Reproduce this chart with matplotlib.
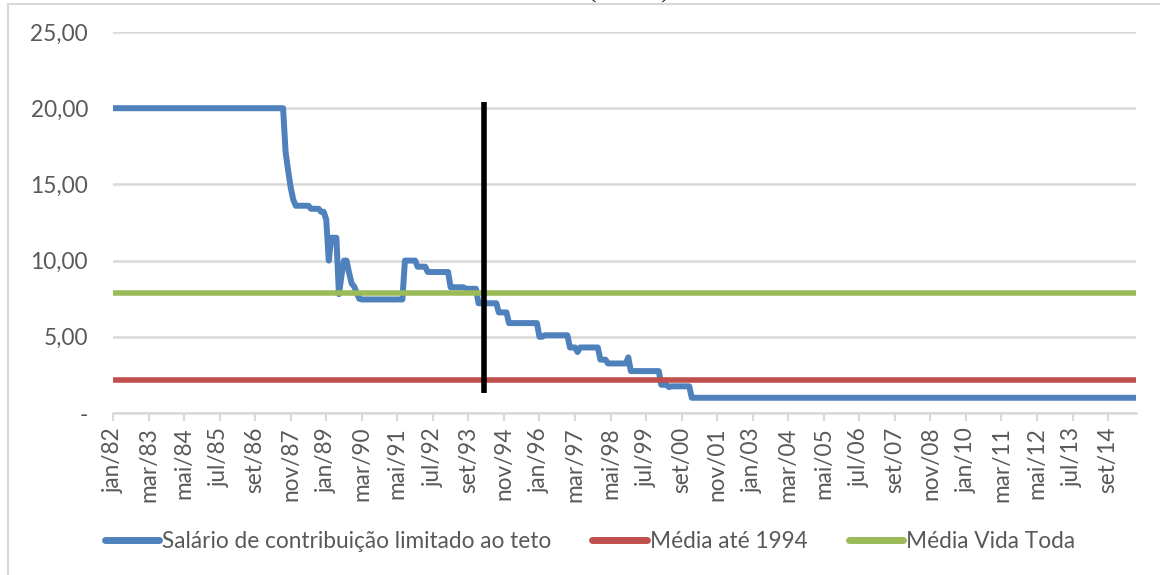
import numpy as np
import matplotlib
matplotlib.use("Agg")
import matplotlib.pyplot as plt
from matplotlib.patches import Rectangle

# Salário de contribuição (run-length: valor, nº de meses) - jan/82 em diante
salario_valores = [20.0, 17.1, 15.9, 14.8, 14.0, 13.6, 13.4, 13.2, 12.7, 10.0,
                   11.5, 7.8, 9.0, 10.0, 9.2, 8.5, 8.3, 7.9, 7.5, 7.45,
                   10.0, 9.6, 9.25, 8.25, 8.15, 7.2, 6.6, 5.9, 5.0, 5.1,
                   4.3, 4.0, 4.3, 3.5, 3.25, 3.65, 2.75, 1.85, 1.7, 1.75, 1.0]
salario_meses = [68, 1, 1, 1, 1, 6, 4, 2, 1, 1,
                 3, 1, 1, 2, 1, 1, 1, 1, 1, 17,
                 5, 4, 9, 6, 5, 8, 4, 12, 2, 10,
                 3, 1, 8, 3, 8, 1, 12, 3, 1, 8, 176]

media_ate_1994 = 2.17
media_vida_toda = 7.9

# marco vertical (1994)
marco_mes = 146
marco_ymin, marco_ymax = 1.3, 20.4

tick_labels = ["jan/82", "mar/83", "mai/84", "jul/85", "set/86", "nov/87",
               "jan/89", "mar/90", "mai/91", "jul/92", "set/93", "nov/94",
               "jan/96", "mar/97", "mai/98", "jul/99", "set/00", "nov/01",
               "jan/03", "mar/04", "mai/05", "jul/06", "set/07", "nov/08",
               "jan/10", "mar/11", "mai/12", "jul/13", "set/14"]
tick_step = 14

salario = np.repeat(salario_valores, salario_meses)
n = len(salario)
x = np.arange(n)

plt.rcParams["font.family"] = ["Lato", "DejaVu Sans"]
cinza = "#595959"
fs = 16.3

fig = plt.figure(figsize=(11.6, 5.75), dpi=100)
ax = fig.add_axes([113 / 1160, 1 - 413 / 575, (1136 - 113) / 1160, (413 - 32) / 575])

ax.plot(x, salario, color="#4F81BD", lw=4.3, solid_capstyle="round",
        label="Salário de contribuição limitado ao teto", zorder=3)
ax.plot(x, np.full(n, media_ate_1994), color="#C0504D", lw=4.0,
        label="Média até 1994", zorder=3)
ax.plot(x, np.full(n, media_vida_toda), color="#9BBB59", lw=4.0,
        label="Média Vida Toda", zorder=3)
ax.vlines(marco_mes, marco_ymin, marco_ymax, color="black", lw=4.0, zorder=5)

ax.set_xlim(0, n - 1)
ax.set_ylim(0, 25)
ax.set_yticks([0, 5, 10, 15, 20, 25])
ax.set_yticklabels(["-" if v == 0 else f"{v:.2f}".replace(".", ",")
                    for v in [0, 5, 10, 15, 20, 25]])
ax.set_xticks(np.arange(len(tick_labels)) * tick_step)
ax.set_xticklabels(tick_labels, rotation=90)

ax.grid(axis="y", color="#d9d9d9", lw=1.8)
ax.set_axisbelow(True)
for s in ["top", "right", "left"]:
    ax.spines[s].set_visible(False)
ax.spines["bottom"].set_color("#d9d9d9")
ax.spines["bottom"].set_linewidth(1.8)
ax.tick_params(axis="y", length=0, pad=18, labelsize=fs, labelcolor=cinza)
ax.tick_params(axis="x", length=6, width=1.5, color="#d9d9d9", pad=4,
               labelsize=fs, labelcolor=cinza)

leg = fig.legend(loc="center", bbox_to_anchor=(0.5086, 1 - 541 / 575), ncol=3,
                 frameon=False, fontsize=fs, handlelength=2.4,
                 handletextpad=0.15, columnspacing=1.8)
for t in leg.get_texts():
    t.set_color(cinza)
for h in leg.get_lines():
    h.set_linewidth(5)
    h.set_solid_capstyle("round")

# borda da área do gráfico e título cortado
fig.patches.append(Rectangle((8 / 1160, -0.02), 1.1, 1.02 - 4 / 575,
                             transform=fig.transFigure, fill=False,
                             edgecolor="#d9d9d9", lw=1.5))
fig.text(0.542, 1 - 3 / 575, "(em SM)", ha="center", va="bottom",
         fontsize=16, family=["Liberation Serif"], color="black")

fig.savefig("out.png", dpi=100)
